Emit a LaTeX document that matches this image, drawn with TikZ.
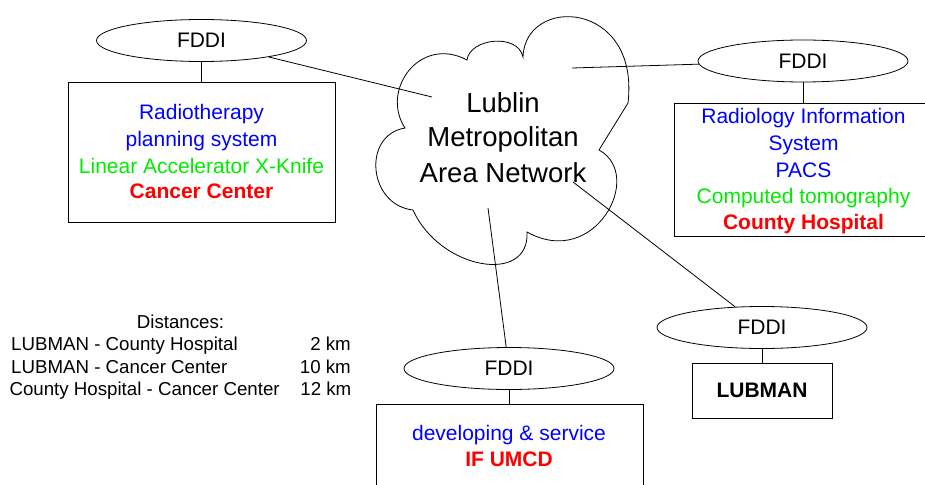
\documentclass[tikz,border=0pt]{standalone}
\usepackage{fontspec}
\setmainfont{Liberation Sans}
\usetikzlibrary{shapes.geometric}
\definecolor{tblue}{RGB}{0,0,255}
\definecolor{tgreen}{RGB}{0,235,0}
\definecolor{tred}{RGB}{255,0,0}
\begin{document}
\begin{tikzpicture}[x=1pt,y=-1pt,
  lin/.style={line width=0.8pt, black},
  fddi/.style={ellipse, draw, line width=0.8pt, minimum width=210pt, minimum height=42pt, inner sep=0pt, font=\fontsize{21}{25}\selectfont},
  boxnode/.style={draw, line width=0.9pt, inner sep=0pt},
  txt/.style={anchor=base, inner sep=0pt, font=\fontsize{21}{25}\selectfont},
  ctxt/.style={anchor=base, inner sep=0pt, font=\fontsize{27.5}{33}\selectfont},
  dtxt/.style={inner sep=0pt, font=\fontsize{18.7}{22}\selectfont}
]
\useasboundingbox (0,0) rectangle (925,484);

% cloud
\draw[lin] (467,60) .. controls (470,38) and (518,33) .. (523,57)
  .. controls (525,-5) and (640,0) .. (628,103)
  -- (599,150)
  .. controls (645,175) and (595,270) .. (527,232)
  .. controls (530,285) and (440,270) .. (413,210)
  .. controls (368,205) and (362,135) .. (405,128)
  .. controls (380,90) and (420,35) .. (467,60) -- cycle;

\node[ctxt] (lm1) at (503,113) {Lublin};
\node[ctxt] (lm2) at (503,146.5) {Metropolitan};
\node[ctxt] (lm3) at (503,182) {Area Network};

\coordinate (k1) at (432,97);
\coordinate (k2) at (572,68);
\coordinate (k3) at (573,182);
\coordinate (k4) at (488,208);

% FDDI rings
\node[fddi] (f1) at (201.5,40.5) {FDDI};
\node[fddi] (f2) at (803,61) {FDDI};
\node[fddi] (f3) at (762,327.5) {FDDI};
\node[fddi] (f4) at (509,368.5) {FDDI};

% boxes
\node[boxnode, minimum width=267pt, minimum height=140.4pt] (b1) at (201.5,152.5) {};
\node[boxnode, minimum width=256pt, minimum height=132.7pt] (b2) at (802.3,169.65) {};
\node[boxnode, minimum width=140pt, minimum height=55.5pt] (b3) at (762,390.75) {};
\node[boxnode, minimum width=266.3pt, minimum height=120pt] (b4) at (509.85,464.3) {};

% connectors
\draw[lin] (f1) -- (k1);
\draw[lin] (k2) -- (f2);
\draw[lin] (k3) -- (f3);
\draw[lin] (k4) -- (f4);
\draw[lin] (f1.south) -- (f1.south |- b1.north);
\draw[lin] (f2.south) -- (f2.south |- b2.north);
\draw[lin] (f3.south) -- (f3.south |- b3.north);
\draw[lin] (f4.south) -- (f4.south |- b4.north);

% Cancer Center
\node[txt, text=tblue] (t11) at (201.5,120) {Radiotherapy};
\node[txt, text=tblue] (t12) at (201.5,146) {planning system};
\node[txt, text=tgreen] (t13) at (201.5,173) {Linear Accelerator X-Knife};
\node[txt, text=tred, font=\fontsize{21}{25}\selectfont\bfseries] (t14) at (201.5,198) {Cancer Center};

% County Hospital
\node[txt, text=tblue] (t21) at (803.5,124) {Radiology Information};
\node[txt, text=tblue] (t22) at (803.5,150) {System};
\node[txt, text=tblue] (t23) at (803.5,177) {PACS};
\node[txt, text=tgreen] (t24) at (803.5,203) {Computed tomography};
\node[txt, text=tred, font=\fontsize{21}{25}\selectfont\bfseries] (t25) at (803.5,229) {County Hospital};

% LUBMAN
\node[txt, font=\fontsize{21}{25}\selectfont\bfseries] (t31) at (762,397) {LUBMAN};

% IF UMCD
\node[txt, text=tblue] (t41) at (509,440) {developing \& service};
\node[txt, text=tred, font=\fontsize{21}{25}\selectfont\bfseries] (t42) at (509,466) {IF UMCD};

% distances
\node[dtxt, anchor=base] (d0) at (180.5,328) {Distances:};
\node[dtxt, anchor=base west] (d1) at (11,350) {LUBMAN - County Hospital};
\node[dtxt, anchor=base east] (d1k) at (351,350) {2 km};
\node[dtxt, anchor=base west] (d2) at (11,373) {LUBMAN - Cancer Center};
\node[dtxt, anchor=base east] (d2k) at (351,373) {10 km};
\node[dtxt, anchor=base west] (d3) at (9.3,395) {County Hospital - Cancer Center};
\node[dtxt, anchor=base east] (d3k) at (351.5,395) {12 km};
\end{tikzpicture}
\end{document}
